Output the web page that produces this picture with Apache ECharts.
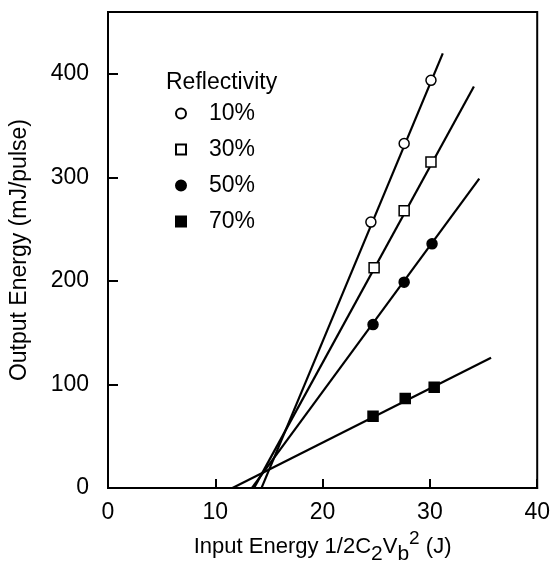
<!DOCTYPE html>
<html>
<head>
<meta charset="utf-8">
<script src="https://cdn.jsdelivr.net/npm/echarts@6/dist/echarts.min.js"></script>
<style>html,body{margin:0;padding:0;background:#fff;}#c{width:553px;height:570px;}</style>
</head>
<body>
<div id="c"></div>
<script>
// Data
var seriesNames = ['10%', '30%', '50%', '70%'];
var x10 = [24.5, 27.6, 30.1], y10 = [257, 333, 394];
var x30 = [24.8, 27.6, 30.1], y30 = [213, 268, 315];
var x50 = [24.7, 27.6, 30.2], y50 = [158, 199, 236];
var x70 = [24.7, 27.7, 30.4], y70 = [69.5, 86.5, 97.4];
// fitted line endpoints [x, y]
var fit10 = [[14.3, 0], [31.2, 420]];
var fit30 = [[13.6, 0], [34.1, 388]];
var fit50 = [[13.4, 0], [34.6, 299]];
var fit70 = [[11.6, 0], [35.7, 126]];
var xTicks = [0, 10, 20, 30, 40];
var yTicks = [0, 100, 200, 300, 400];

function pairs(xs, ys) { return xs.map(function (x, i) { return [x, ys[i]]; }); }

var FONT = '"Liberation Sans", Arial, sans-serif';
var chart = echarts.init(document.getElementById('c'));

function fitSeries(d) {
  return { type: 'line', data: d, symbol: 'none', silent: true, z: 2,
    lineStyle: { color: '#000', width: 2.2 } };
}
function pointSeries(name, d, symbol, filled, size) {
  return { type: 'scatter', name: name, data: d, symbol: symbol, symbolSize: size, z: 5,
    itemStyle: { color: filled ? '#000' : '#fff', borderColor: '#000', borderWidth: 1.5, opacity: 1 } };
}

chart.setOption({
  animation: false,
  backgroundColor: '#fff',
  textStyle: { fontFamily: FONT, color: '#000' },
  title: { text: 'Reflectivity', left: 161, top: 66,
    textStyle: { fontFamily: FONT, fontSize: 23, fontWeight: 'normal', color: '#000' } },
  legend: {
    orient: 'vertical', left: 170, top: 97, itemWidth: 10, itemHeight: 10, itemGap: 13,
    data: seriesNames,
    textStyle: { fontFamily: FONT, fontSize: 23, color: '#000', padding: [0, 0, 0, 18] }
  },
  grid: { left: 107, right: 14, top: 12, bottom: 77, show: true, borderColor: '#000', borderWidth: 2, backgroundColor: 'transparent' },
  xAxis: {
    type: 'value', min: xTicks[0], max: xTicks[xTicks.length - 1], interval: 10,
    name: '{b|Input Energy 1/2C}{s|2}{b|V}{s|b}{p|2}{b| (J)}',
    nameLocation: 'middle', nameGap: 27,
    nameTextStyle: { rich: {
      b: { fontFamily: FONT, fontSize: 22, color: '#000', lineHeight: 36, verticalAlign: 'middle' },
      s: { fontFamily: FONT, fontSize: 21, color: '#000', verticalAlign: 'bottom' },
      p: { fontFamily: FONT, fontSize: 19, color: '#000', verticalAlign: 'top' }
    } },
    axisLine: { show: true, lineStyle: { color: '#000', width: 2 } },
    axisTick: { show: true, inside: true, length: 9, lineStyle: { color: '#000', width: 2 } },
    axisLabel: { fontFamily: FONT, fontSize: 23, color: '#000', margin: 13 },
    splitLine: { show: false }
  },
  yAxis: {
    type: 'value', min: yTicks[0], max: 460, interval: 100,
    name: 'Output Energy (mJ/pulse)', nameLocation: 'middle', nameGap: 77,
    nameTextStyle: { fontFamily: FONT, fontSize: 23, color: '#000' },
    axisLine: { show: true, lineStyle: { color: '#000', width: 2 } },
    axisTick: { show: true, inside: true, length: 10, lineStyle: { color: '#000', width: 2 } },
    axisLabel: { fontFamily: FONT, fontSize: 23, color: '#000', margin: 19, showMaxLabel: false,
      formatter: function (v) { return yTicks.indexOf(v) >= 0 ? String(v) : ''; } },
    splitLine: { show: false }
  },
  series: [
    fitSeries(fit10), fitSeries(fit30), fitSeries(fit50), fitSeries(fit70),
    pointSeries(seriesNames[0], pairs(x10, y10), 'circle', false, 10),
    pointSeries(seriesNames[1], pairs(x30, y30), 'rect', false, 10),
    pointSeries(seriesNames[2], pairs(x50, y50), 'circle', true, 10),
    pointSeries(seriesNames[3], pairs(x70, y70), 'rect', true, 10)
  ]
});
</script>
</body>
</html>
